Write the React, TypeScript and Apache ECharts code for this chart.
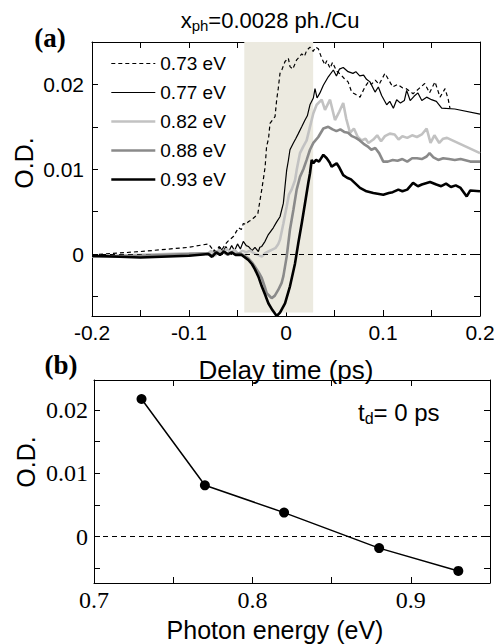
import React, { useEffect, useRef } from 'react';
import * as echarts from 'echarts';

// ---------- data ----------
const seriesNames = ['0.73 eV', '0.77 eV', '0.82 eV', '0.88 eV', '0.93 eV'];

const od073: [number, number][] = [
  [-0.2, -0.0001], [-0.15, 0.0003], [-0.1, 0.0008], [-0.08, 0.0012], [-0.076, 0.0006], [-0.072, 0.0002],
  [-0.069, 0.0009], [-0.066, 0.0005], [-0.063, 0.0011], [-0.06, 0.0015], [-0.056, 0.0019], [-0.054, 0.0021],
  [-0.051, 0.0027], [-0.049, 0.0031], [-0.046, 0.0029], [-0.044, 0.0036], [-0.041, 0.0035], [-0.039, 0.0038],
  [-0.036, 0.004], [-0.034, 0.0042], [-0.031, 0.0045], [-0.029, 0.0048], [-0.027, 0.0062], [-0.025, 0.0076],
  [-0.023, 0.0091], [-0.0215, 0.0103], [-0.02, 0.0127], [-0.018, 0.0136], [-0.0165, 0.0154], [-0.014, 0.0158],
  [-0.0113, 0.0162], [-0.0096, 0.0182], [-0.008, 0.0195], [-0.0062, 0.0213], [-0.004, 0.0218], [-0.001, 0.0227],
  [0.0024, 0.0231], [0.0041, 0.0221], [0.007, 0.0218], [0.011, 0.0229], [0.0135, 0.0232], [0.0162, 0.0236],
  [0.019, 0.0233], [0.0213, 0.024], [0.0247, 0.0244], [0.028, 0.0239], [0.0305, 0.0244], [0.0333, 0.0242],
  [0.0368, 0.0231], [0.0402, 0.0223], [0.042, 0.0228], [0.0454, 0.0219], [0.048, 0.0226], [0.052, 0.0216],
  [0.056, 0.0212], [0.06, 0.0207], [0.064, 0.0203], [0.0677, 0.0191], [0.072, 0.0188], [0.0763, 0.0185],
  [0.0814, 0.0197], [0.085, 0.0203], [0.088, 0.02], [0.092, 0.0205], [0.096, 0.02], [0.102, 0.0213],
  [0.106, 0.0205], [0.11, 0.0197], [0.115, 0.02], [0.12, 0.0196], [0.124, 0.0195], [0.131, 0.0189],
  [0.137, 0.0195], [0.143, 0.0201], [0.148, 0.019], [0.1536, 0.0203], [0.1588, 0.0185], [0.164, 0.0195],
  [0.1673, 0.0182], [0.169, 0.0172],
];

const od077: [number, number][] = [
  [-0.2, -0.0003], [-0.15, -0.0003], [-0.1, -0.0002], [-0.08, 0.0], [-0.077, -0.0004], [-0.074, 0.0005],
  [-0.071, 0.0001], [-0.068, 0.0008], [-0.065, 0.0002], [-0.062, 0.0009], [-0.059, 0.0003], [-0.056, 0.001],
  [-0.053, 0.0004], [-0.05, 0.0012], [-0.047, 0.0006], [-0.044, 0.0015], [-0.041, 0.001], [-0.0388, 0.0009],
  [-0.035, 0.0004], [-0.032, 0.0008], [-0.0285, 0.0003], [-0.027, 0.0008], [-0.025, 0.0009], [-0.0216, 0.0015],
  [-0.0182, 0.0023], [-0.0131, 0.0031], [-0.0096, 0.0038], [-0.0062, 0.0044], [-0.0027, 0.006], [-0.001, 0.008],
  [0.0007, 0.0099], [0.0024, 0.011], [0.0041, 0.0123], [0.0076, 0.0131], [0.01, 0.0136], [0.0127, 0.0142],
  [0.0162, 0.015], [0.0196, 0.0158], [0.022, 0.0163], [0.0247, 0.0176], [0.0282, 0.0184], [0.0299, 0.0195],
  [0.032, 0.0184], [0.035, 0.019], [0.0385, 0.0199], [0.0436, 0.0209], [0.0488, 0.0217], [0.052, 0.021],
  [0.055, 0.0218], [0.059, 0.022], [0.064, 0.0215], [0.069, 0.0213], [0.072, 0.0215], [0.076, 0.021],
  [0.08, 0.0211], [0.083, 0.0206], [0.0866, 0.0203], [0.0918, 0.0191], [0.0952, 0.0197], [0.0986, 0.0187],
  [0.1038, 0.0176], [0.107, 0.018], [0.1107, 0.0172], [0.1141, 0.0182], [0.118, 0.0178], [0.122, 0.0181],
  [0.1244, 0.0193], [0.128, 0.0181], [0.132, 0.0186], [0.136, 0.019], [0.14, 0.0181], [0.145, 0.0185],
  [0.15, 0.0182], [0.155, 0.018], [0.1605, 0.0172], [0.174, 0.0171], [0.2, 0.0165],
];

const od082: [number, number][] = [
  [-0.2, -0.0003], [-0.15, -0.0001], [-0.1, 0.0001], [-0.08, 0.0001], [-0.077, 0.0004], [-0.073, -0.0002],
  [-0.069, 0.0005], [-0.065, 0.0001], [-0.061, 0.0006], [-0.057, 0.0002], [-0.053, 0.0005], [-0.049, 0.0],
  [-0.045, 0.0004], [-0.041, 0.0002], [-0.037, 0.0004], [-0.033, 0.0001], [-0.029, -0.0001], [-0.025, -0.0003],
  [-0.0216, 0.0001], [-0.0182, 0.0003], [-0.0148, 0.0005], [-0.011, 0.0007], [-0.0079, 0.0012], [-0.0062, 0.0017],
  [-0.0027, 0.0036], [0.0007, 0.0056], [0.003, 0.007], [0.0058, 0.0076], [0.0093, 0.0087], [0.011, 0.0099],
  [0.0144, 0.0119], [0.0179, 0.0127], [0.0213, 0.0134], [0.0247, 0.015], [0.0282, 0.0166], [0.0316, 0.0176],
  [0.0368, 0.0182], [0.0402, 0.017], [0.0454, 0.0182], [0.0505, 0.0158], [0.055, 0.0168], [0.059, 0.0178],
  [0.062, 0.016], [0.066, 0.0143], [0.07, 0.0148], [0.074, 0.0138], [0.078, 0.0134], [0.082, 0.0136],
  [0.085, 0.0131], [0.09, 0.0135], [0.094, 0.014], [0.098, 0.0133], [0.102, 0.0139], [0.107, 0.0142],
  [0.112, 0.0141], [0.116, 0.0135], [0.12, 0.0139], [0.125, 0.0137], [0.13, 0.014], [0.135, 0.0138],
  [0.14, 0.0141], [0.145, 0.0148], [0.149, 0.0131], [0.153, 0.014], [0.158, 0.0131], [0.162, 0.0136],
  [0.166, 0.0137], [0.2, 0.0119],
];

const od088: [number, number][] = [
  [-0.2, -0.0003], [-0.15, -0.0002], [-0.1, 0.0], [-0.08, 0.0001], [-0.076, -0.0002], [-0.072, 0.0003],
  [-0.068, 0.0], [-0.064, 0.0002], [-0.06, -0.0001], [-0.056, 0.0002], [-0.052, 0.0], [-0.048, 0.0001],
  [-0.044, -0.0001], [-0.0388, -0.0005], [-0.035, -0.001], [-0.032, -0.0015], [-0.028, -0.0022], [-0.025, -0.0028],
  [-0.022, -0.0038], [-0.0199, -0.0046], [-0.0165, -0.005], [-0.0148, -0.0052], [-0.0115, -0.0049], [-0.0079, -0.0042],
  [-0.0045, -0.0034], [-0.0027, -0.0026], [0.0007, -0.0003], [0.0041, 0.0029], [0.0076, 0.0052], [0.011, 0.0076],
  [0.0144, 0.0091], [0.0179, 0.01], [0.0213, 0.0111], [0.0247, 0.0123], [0.0282, 0.0131], [0.0333, 0.0138],
  [0.0385, 0.0148], [0.0436, 0.015], [0.048, 0.0147], [0.052, 0.0145], [0.056, 0.0147], [0.06, 0.0144],
  [0.064, 0.0143], [0.068, 0.0139], [0.072, 0.0137], [0.076, 0.0134], [0.08, 0.013], [0.084, 0.0127],
  [0.088, 0.0123], [0.092, 0.0125], [0.096, 0.0119], [0.1003, 0.0109], [0.105, 0.0109], [0.11, 0.0111],
  [0.115, 0.011], [0.12, 0.0112], [0.125, 0.0109], [0.13, 0.0113], [0.135, 0.0113], [0.14, 0.0112],
  [0.145, 0.0115], [0.148, 0.0119], [0.152, 0.0114], [0.157, 0.0111], [0.162, 0.0113], [0.168, 0.0112],
  [0.174, 0.0111], [0.18, 0.0112], [0.19, 0.0109], [0.2, 0.0109],
];

const od093: [number, number][] = [
  [-0.2, -0.0002], [-0.15, -0.0004], [-0.1, -0.0002], [-0.08, 0.0], [-0.076, -0.0003], [-0.072, 0.0002],
  [-0.068, -0.0001], [-0.064, 0.0003], [-0.06, 0.0], [-0.056, 0.0002], [-0.052, -0.0001], [-0.0457, -0.0001],
  [-0.0388, -0.0007], [-0.035, -0.0012], [-0.032, -0.0018], [-0.028, -0.0028], [-0.025, -0.0038], [-0.0215, -0.0048],
  [-0.0182, -0.0058], [-0.014, -0.0066], [-0.0096, -0.0073], [-0.0062, -0.0069], [-0.001, -0.0058], [0.0041, -0.0038],
  [0.0093, -0.0011], [0.0127, 0.0013], [0.0162, 0.0036], [0.0196, 0.006], [0.023, 0.0084], [0.0247, 0.0095],
  [0.0265, 0.0111], [0.0282, 0.0107], [0.031, 0.0111], [0.034, 0.0109], [0.0385, 0.0117], [0.042, 0.0113],
  [0.045, 0.0108], [0.047, 0.0103], [0.0522, 0.0107], [0.055, 0.0102], [0.059, 0.0093], [0.063, 0.009],
  [0.067, 0.0088], [0.0763, 0.0078], [0.083, 0.0074], [0.09, 0.0072], [0.1003, 0.007], [0.106, 0.0072],
  [0.11, 0.0073], [0.1158, 0.0076], [0.12, 0.0074], [0.125, 0.0076], [0.131, 0.0084], [0.136, 0.008],
  [0.14, 0.0082], [0.1485, 0.0085], [0.155, 0.0082], [0.16, 0.008], [0.165, 0.0083], [0.17, 0.0079],
  [0.175, 0.0081], [0.18, 0.0078], [0.1863, 0.0068], [0.19, 0.0075], [0.2, 0.0074],
];

const pumpWindow = [-0.043, 0.028];

const photonEnergy = [0.73, 0.77, 0.82, 0.88, 0.93];
const odAtZeroDelay = [0.0217, 0.0081, 0.0038, -0.0018, -0.0054];

const topYTicks = [-0.005, 0, 0.005, 0.01, 0.015, 0.02];
const topYLabels = [0, 0.01, 0.02];
const botYTicks = [-0.005, 0, 0.005, 0.01, 0.015, 0.02];
const botYLabels = [0, 0.01, 0.02];

// ---------- styles ----------
const SANS = '"Liberation Sans", Arial, sans-serif';
const SERIF = '"Liberation Serif", "Times New Roman", serif';

const lineStyles = [
  { color: '#000000', width: 1.2, type: [4, 3] as any },
  { color: '#000000', width: 1.2, type: 'solid' },
  { color: '#c2c2c2', width: 2.6, type: 'solid' },
  { color: '#8a8a8a', width: 2.6, type: 'solid' },
  { color: '#000000', width: 2.6, type: 'solid' },
];

export default function App() {
  const ref = useRef<HTMLDivElement>(null);

  useEffect(() => {
    if (!ref.current) return;
    const chart = echarts.init(ref.current, undefined, { renderer: 'svg' });

    const frameAxis = {
      axisLine: { show: true, onZero: false, lineStyle: { color: '#000', width: 1 } },
      axisTick: { show: true, inside: true, length: 6, lineStyle: { color: '#000', width: 1 } },
      splitLine: { show: false },
    };

    const topDelayLabel = (v: number) => {
      const r = Math.round(v * 100);
      if (r % 10 !== 0) return '';
      return r === 0 ? '0' : (r / 100).toFixed(1);
    };
    const botEnergyLabel = (v: number) => {
      const r = Math.round(v * 100);
      if (r % 10 !== 0) return '';
      return (r / 100).toFixed(1);
    };
    const odLabel = (v: number) => (Math.abs(v) < 1e-9 ? '0' : v.toFixed(2));

    const allSeries = [od073, od077, od082, od088, od093];

    const option: any = {
      animation: false,
      backgroundColor: '#ffffff',
      grid: [
        { left: 92, top: 42, width: 388, height: 274 },
        { left: 94, top: 380, width: 396, height: 203 },
      ],
      xAxis: [
        {
          type: 'value', gridIndex: 0, position: 'bottom', min: -0.2, max: 0.2, interval: 0.05,
          ...frameAxis,
          axisLabel: { show: true, margin: 6, color: '#000', fontSize: 21, fontFamily: SANS, formatter: topDelayLabel },
        },
        {
          type: 'value', gridIndex: 0, position: 'top', min: -0.2, max: 0.2, interval: 0.05,
          ...frameAxis, axisLabel: { show: false },
        },
        {
          type: 'value', gridIndex: 1, position: 'bottom', min: 0.7, max: 0.95, interval: 0.05,
          ...frameAxis,
          axisLabel: { show: true, margin: 5, color: '#000', fontSize: 24, fontFamily: SERIF, formatter: botEnergyLabel },
        },
        {
          type: 'value', gridIndex: 1, position: 'top', min: 0.7, max: 0.95, interval: 0.05,
          ...frameAxis, axisLabel: { show: false },
        },
      ],
      yAxis: [
        {
          type: 'value', gridIndex: 0, position: 'left', min: -0.0073, max: 0.025,
          ...frameAxis,
          axisTick: { ...frameAxis.axisTick, customValues: topYTicks },
          axisLabel: { show: true, margin: 8, color: '#000', fontSize: 21, fontFamily: SANS, customValues: topYLabels, formatter: odLabel },
        },
        {
          type: 'value', gridIndex: 0, position: 'right', min: -0.0073, max: 0.025,
          ...frameAxis,
          axisTick: { ...frameAxis.axisTick, customValues: topYTicks },
          axisLabel: { show: false },
        },
        {
          type: 'value', gridIndex: 1, position: 'left', min: -0.0073, max: 0.0247,
          ...frameAxis,
          axisTick: { ...frameAxis.axisTick, customValues: botYTicks },
          axisLabel: { show: true, margin: 6, color: '#000', fontSize: 24, fontFamily: SERIF, customValues: botYLabels, formatter: odLabel },
        },
        {
          type: 'value', gridIndex: 1, position: 'right', min: -0.0073, max: 0.0247,
          ...frameAxis,
          axisTick: { ...frameAxis.axisTick, customValues: botYTicks },
          axisLabel: { show: false },
        },
      ],
      legend: {
        data: seriesNames,
        orient: 'vertical',
        left: 110,
        top: 54,
        itemWidth: 44,
        itemHeight: 12,
        itemGap: 10,
        padding: 0,
        selectedMode: false,
        itemStyle: { opacity: 0 },
        lineStyle: { width: 'inherit' },
        textStyle: { color: '#000', fontSize: 19, fontFamily: SANS },
      },
      series: [
        {
          type: 'line', xAxisIndex: 0, yAxisIndex: 0, data: [], z: 0, silent: true,
          markArea: {
            silent: true,
            itemStyle: { color: '#ECEAE0' },
            data: [[{ xAxis: pumpWindow[0], yAxis: -0.0069 }, { xAxis: pumpWindow[1], yAxis: 0.025 }]],
          },
          markLine: {
            silent: true, symbol: ['none', 'none'], label: { show: false },
            lineStyle: { color: '#000', width: 1, type: [5, 4] },
            data: [{ yAxis: 0 }],
          },
        },
        ...allSeries.map((d, i) => ({
          name: seriesNames[i],
          type: 'line', xAxisIndex: 0, yAxisIndex: 0, data: d, z: 2 + i,
          symbol: 'none', showSymbol: false,
          lineStyle: lineStyles[i],
          itemStyle: { color: lineStyles[i].color },
        })),
        {
          type: 'line', xAxisIndex: 2, yAxisIndex: 2, z: 3,
          data: photonEnergy.map((e, i) => [e, odAtZeroDelay[i]]),
          symbol: 'circle', symbolSize: 10,
          lineStyle: { color: '#000', width: 1.5 },
          itemStyle: { color: '#000' },
          markLine: {
            silent: true, symbol: ['none', 'none'], label: { show: false },
            lineStyle: { color: '#000', width: 1, type: [5, 4] },
            data: [{ yAxis: 0 }],
          },
        },
      ],
      graphic: [
        {
          type: 'text', x: 270, y: 20,
          style: {
            text: '{a|x}{s|ph}{a|=0.0028 ph./Cu}',
            align: 'center', verticalAlign: 'middle',
            rich: {
              a: { fontSize: 22, fontFamily: SANS, fill: '#000', color: '#000', lineHeight: 26, verticalAlign: 'middle' },
              s: { fontSize: 15, fontFamily: SANS, fill: '#000', color: '#000', lineHeight: 12, verticalAlign: 'bottom' },
            },
          },
        },
        {
          type: 'text', x: 50, y: 38,
          style: { text: '(a)', fontSize: 27, fontWeight: 'bold', fontFamily: SERIF, fill: '#000', align: 'center', verticalAlign: 'middle' },
        },
        {
          type: 'text', x: 61, y: 365,
          style: { text: '(b)', fontSize: 27, fontWeight: 'bold', fontFamily: SERIF, fill: '#000', align: 'center', verticalAlign: 'middle' },
        },
        {
          type: 'text', x: 286, y: 370,
          style: { text: 'Delay time (ps)', fontSize: 26, fontFamily: SANS, fill: '#000', align: 'center', verticalAlign: 'middle' },
        },
        {
          type: 'text', x: 24, y: 163, rotation: Math.PI / 2,
          style: { text: 'O.D.', fontSize: 25, fontFamily: SANS, fill: '#000', align: 'center', verticalAlign: 'middle' },
        },
        {
          type: 'text', x: 26, y: 462, rotation: Math.PI / 2,
          style: { text: 'O.D.', fontSize: 25, fontFamily: SANS, fill: '#000', align: 'center', verticalAlign: 'middle' },
        },
        {
          type: 'text', x: 275, y: 630,
          style: { text: 'Photon energy (eV)', fontSize: 25, fontFamily: SANS, fill: '#000', align: 'center', verticalAlign: 'middle' },
        },
        {
          type: 'text', x: 358, y: 412,
          style: {
            text: '{a|t}{s|d}{a|= 0 ps}',
            align: 'left', verticalAlign: 'middle',
            rich: {
              a: { fontSize: 24, fontFamily: SANS, fill: '#000', color: '#000', lineHeight: 28, verticalAlign: 'middle' },
              s: { fontSize: 16, fontFamily: SANS, fill: '#000', color: '#000', lineHeight: 13, verticalAlign: 'bottom' },
            },
          },
        },
      ],
    };

    chart.setOption(option);
    return () => chart.dispose();
  }, []);

  return (
    <div
      ref={ref}
      style={{ position: 'fixed', left: 0, top: 0, width: 501, height: 644, background: '#fff' }}
    />
  );
}
